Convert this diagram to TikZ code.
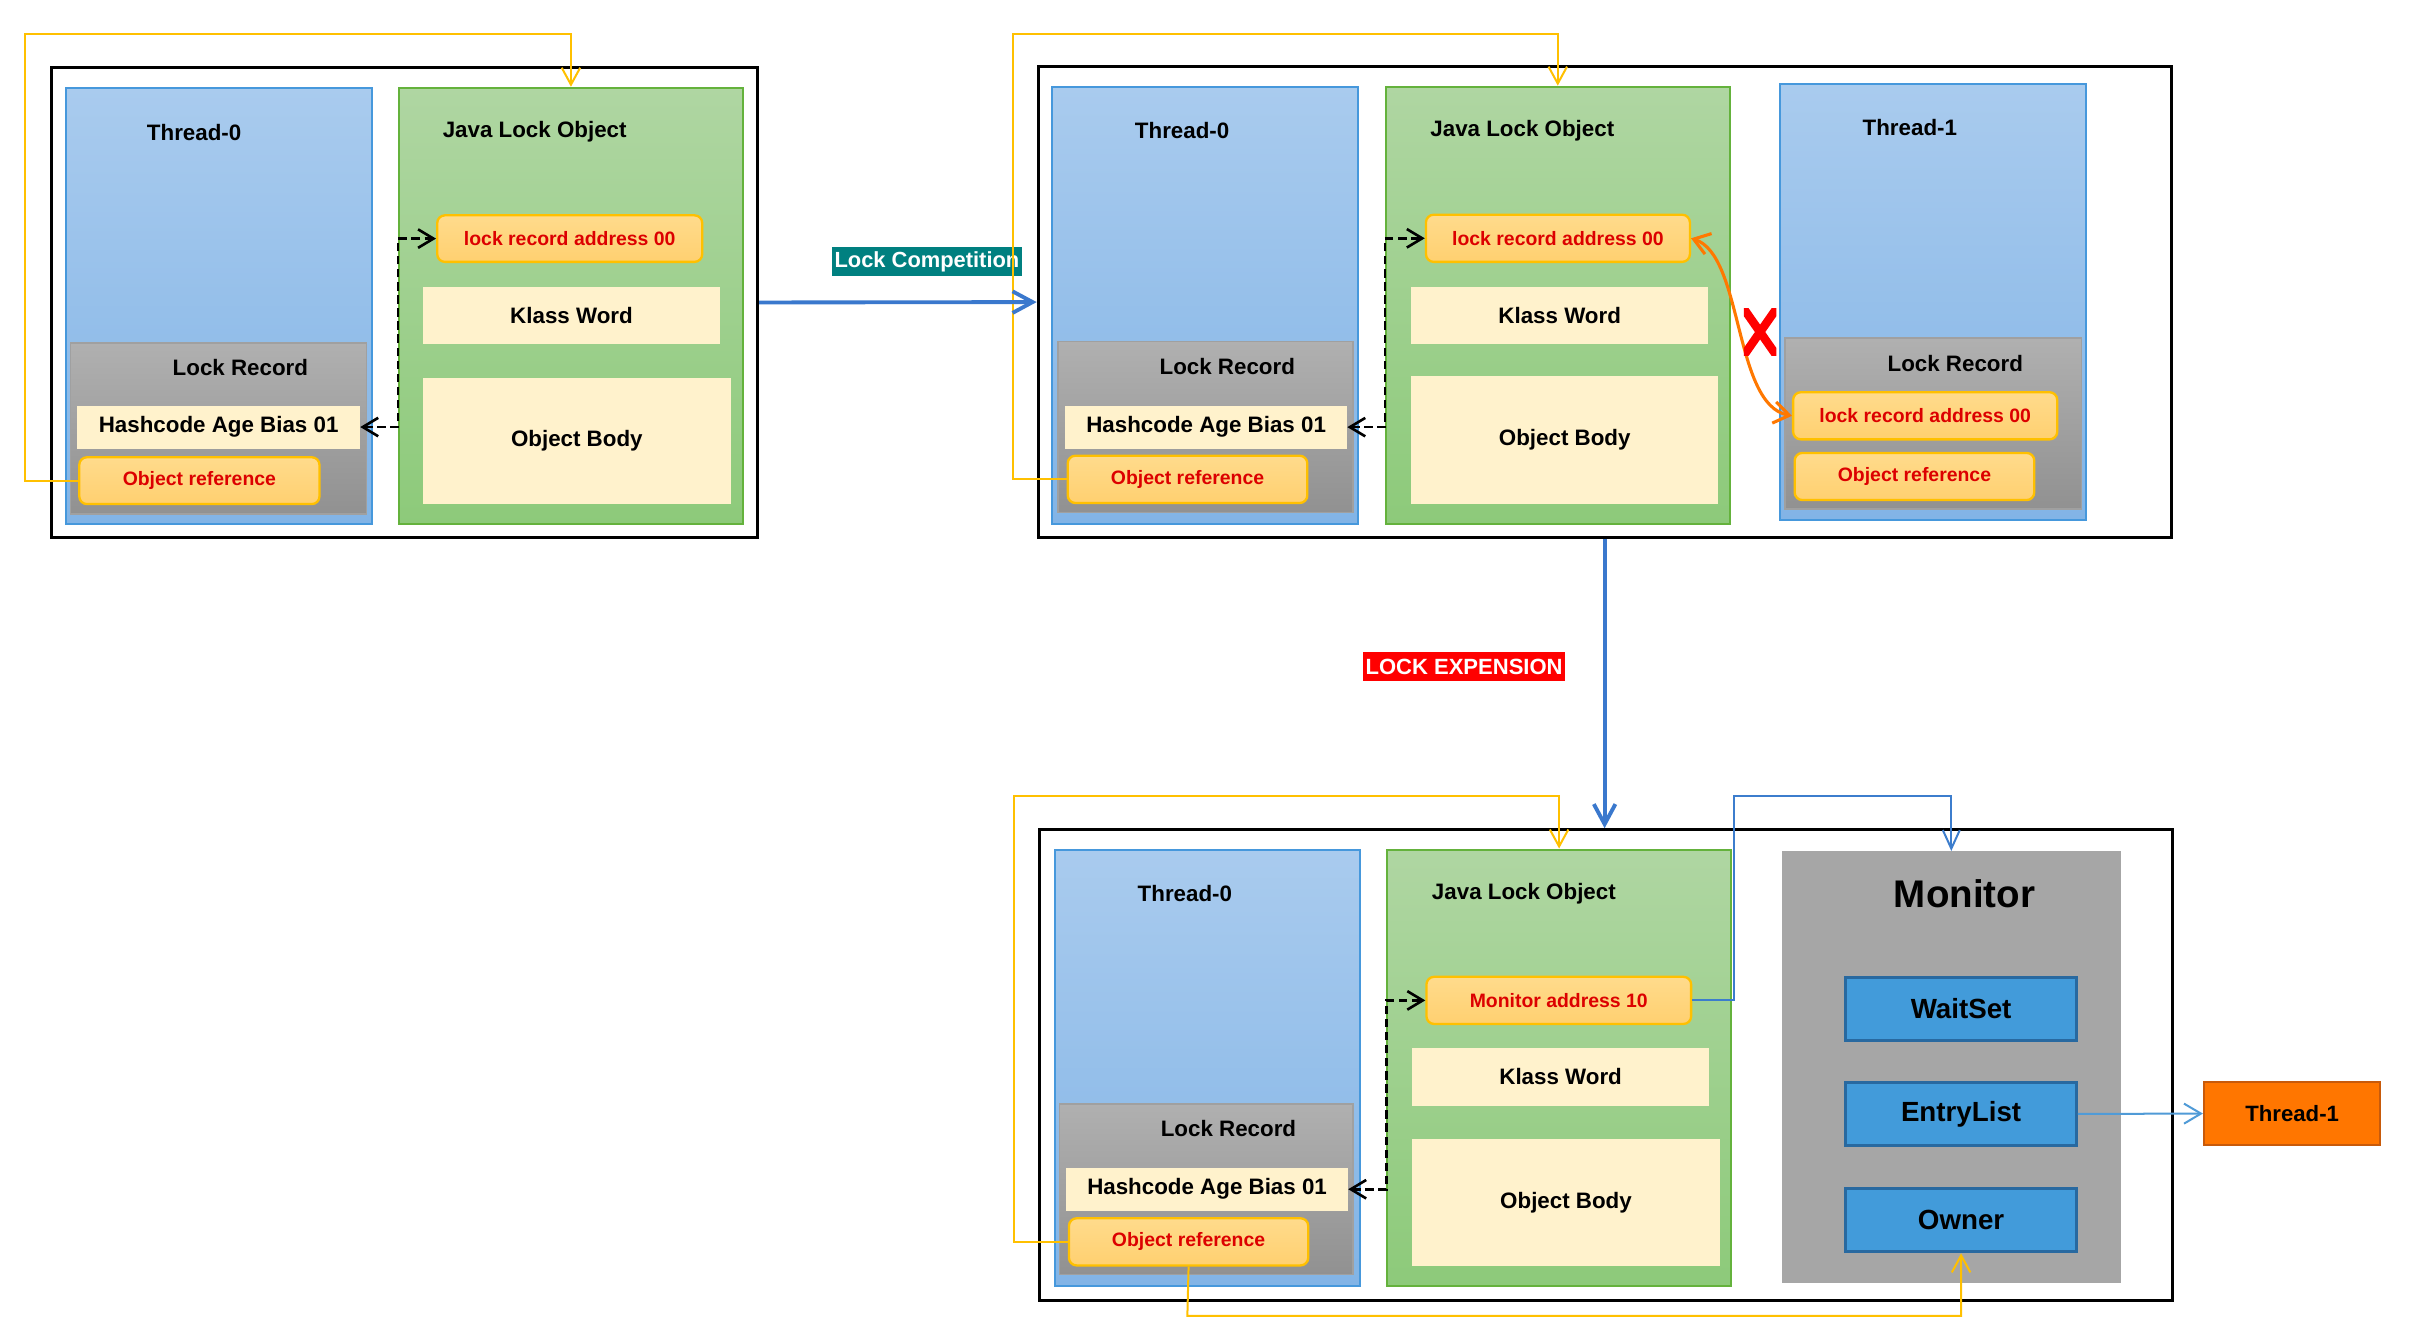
\documentclass[tikz,border=0pt]{standalone}
\usepackage{fontspec}
\setmainfont{Liberation Sans}
\usetikzlibrary{arrows.meta}
\definecolor{thrT}{RGB}{169,203,238}
\definecolor{thrBt}{RGB}{130,180,230}
\definecolor{thrB}{RGB}{70,152,220}
\definecolor{grnT}{RGB}{175,214,162}
\definecolor{grnBt}{RGB}{141,202,122}
\definecolor{grnB}{RGB}{100,178,60}
\definecolor{grayT}{RGB}{176,176,176}
\definecolor{grayBt}{RGB}{145,145,145}
\definecolor{grayB}{RGB}{160,160,160}
\definecolor{creamF}{RGB}{255,242,204}
\definecolor{obT}{RGB}{255,219,140}
\definecolor{obBt}{RGB}{255,208,112}
\definecolor{obB}{RGB}{255,192,0}
\definecolor{txtred}{RGB}{220,0,0}
\definecolor{monG}{RGB}{166,166,166}
\definecolor{blkF}{RGB}{66,155,218}
\definecolor{blkB}{RGB}{40,105,160}
\definecolor{tOneF}{RGB}{255,118,0}
\definecolor{tOneB}{RGB}{200,90,10}
\definecolor{yline}{RGB}{255,192,0}
\definecolor{bblue}{RGB}{58,120,205}
\definecolor{bthinC}{RGB}{60,125,205}
\definecolor{bthinD}{RGB}{80,155,215}
\definecolor{orc}{RGB}{255,120,0}
\definecolor{tealbg}{RGB}{0,128,128}
\definecolor{redbg}{RGB}{255,0,0}
\newcommand\fs[1]{\fontsize{#1}{#1}\selectfont\bfseries}
\newcommand\mybox[7]{\node[#1, anchor=north west, inner sep=0pt, minimum width={(#5)-(#3)}, minimum height={(#6)-(#4)}] (#2) at (#3,#4) {#7};}
\tikzset{
  outerbox/.style={draw=black, line width=2pt},
  thr/.style={draw=thrB, line width=1.3pt, top color=thrT, bottom color=thrBt},
  jlo/.style={draw=grnB, line width=1.3pt, top color=grnT, bottom color=grnBt},
  lrec/.style={draw=grayB, line width=1.2pt, top color=grayT, bottom color=grayBt},
  cream/.style={fill=creamF, font=\fs{14.5}},
  ob/.style={draw=obB, line width=1.5pt, rounded corners=5pt, top color=obT, bottom color=obBt, text=txtred, font=\fs{12.6}},
  monbox/.style={fill=monG},
  blk/.style={draw=blkB, fill=blkF, line width=2pt, font=\fs{18}},
  tone/.style={draw=tOneB, fill=tOneF, line width=1.5pt, font=\fs{14.4}},
  ttl/.style={font=\fs{14.5}, inner sep=0pt},
  yl/.style={draw=yline, line width=1.3pt, -{Straight Barb[length=11pt,width=12pt]}},
  bthick/.style={draw=bblue, line width=2.5pt, -{Straight Barb[length=13pt,width=14pt]}},
  bthin/.style={draw=bthinC, line width=1.3pt, -{Straight Barb[length=12pt,width=11pt]}},
  bthinb/.style={draw=bthinD, line width=1.3pt, -{Straight Barb[length=11pt,width=13pt]}},
  dsh/.style={draw=black, line width=1.7pt, dash pattern=on 5.5pt off 3pt, {Straight Barb[length=10pt,width=12pt]}-{Straight Barb[length=10pt,width=12pt]}},
  orcurve/.style={draw=orc, line width=2pt, {Straight Barb[length=10pt,width=14pt]}-{Straight Barb[length=10pt,width=14pt]}},
}
\begin{document}
\begin{tikzpicture}[x=1pt,y=-1pt]
\useasboundingbox[fill=white] (0,0) rectangle (1568,868);

% ---------- Panel 1 ----------
\mybox{outerbox}{outA}{32.3}{42.9}{490.7}{347.7}{}
\mybox{thr}{thA}{42}{56.3}{240.5}{339.6}{}
\mybox{jlo}{gA}{258.2}{56.3}{481.6}{339.6}{}
\mybox{lrec}{lrA}{45.2}{221.8}{237.3}{333}{}
\mybox{cream}{hcA}{50}{263}{233.4}{290.9}{Hashcode Age Bias 01}
\mybox{ob}{orA}{50.7}{296}{206.6}{326.4}{Object reference}
\mybox{ob}{lraA}{283}{139}{455}{169.2}{lock record address 00}
\mybox{cream}{kwA}{274.4}{186}{467}{223}{Klass Word}
\mybox{cream}{boA}{274.4}{245}{473.9}{326.8}{Object Body}
\node[ttl] (tA) at (126,85.8) {Thread-0};
\node[ttl] (jA) at (347,85.8) {Java Lock Object};
\node[ttl] (lA) at (156,238.8) {Lock Record};

% ---------- Panel 2 ----------
\mybox{outerbox}{outB}{672.8}{42.4}{1408}{347.7}{}
\mybox{thr}{thB}{682.3}{55.6}{880.5}{339.6}{}
\mybox{jlo}{gB}{898.8}{55.6}{1121.9}{339.6}{}
\mybox{thr}{thBb}{1154.6}{53.8}{1353.3}{336.8}{}
\mybox{ob}{lraB}{924.7}{138.6}{1096}{169.2}{lock record address 00}
\mybox{cream}{kwB}{915.7}{186}{1108.4}{223}{Klass Word}
\mybox{cream}{boB}{915.7}{244}{1114.9}{326.8}{Object Body}
\mybox{lrec}{lrB}{686.3}{221}{877.5}{332}{}
\mybox{cream}{hcB}{691.2}{263}{874}{291}{Hashcode Age Bias 01}
\mybox{ob}{orB}{692.2}{295}{847.7}{325.7}{Object reference}
\mybox{lrec}{lrBb}{1158}{219}{1350.3}{329.6}{}
\mybox{ob}{lraBb}{1163}{253.8}{1334.4}{284.4}{lock record address 00}
\mybox{ob}{orBb}{1164}{293.2}{1319.5}{323.8}{Object reference}
\node[ttl] (tB) at (767.2,84.6) {Thread-0};
\node[ttl] (jB) at (988,84.6) {Java Lock Object};
\node[ttl] (tBb) at (1239.5,83) {Thread-1};
\node[ttl] (lB) at (796.5,237.6) {Lock Record};
\node[ttl] (lBb) at (1269,236) {Lock Record};

% ---------- Panel 3 ----------
\mybox{outerbox}{outC}{673.6}{537.5}{1409.2}{843}{}
\mybox{thr}{thC}{684.2}{550.7}{882.3}{834.1}{}
\mybox{jlo}{gC}{899.8}{550.7}{1122.6}{834.1}{}
\mybox{monbox}{mon}{1156}{552.3}{1376.4}{832.4}{}
\mybox{ob}{ma}{925}{633.2}{1096.8}{663.8}{Monitor address 10}
\mybox{cream}{kwC}{916.3}{679.8}{1109}{717.6}{Klass Word}
\mybox{cream}{boC}{916.3}{739}{1116}{821.7}{Object Body}
\mybox{lrec}{lrC}{687}{715.7}{877.6}{826.5}{}
\mybox{cream}{hcC}{691.8}{757.6}{874.6}{785.6}{Hashcode Age Bias 01}
\mybox{ob}{orC}{693}{789.9}{848.3}{820.5}{Object reference}
\mybox{blk}{ws}{1197}{633.2}{1346.5}{674.3}{WaitSet}
\mybox{blk}{el}{1197}{701.4}{1346.5}{742.5}{EntryList}
\mybox{blk}{own}{1197}{770.3}{1346.5}{811.4}{Owner}
\mybox{tone}{tC}{1429.7}{701.4}{1544}{742.5}{Thread-1}
\node[ttl] (tCt) at (769,579.8) {Thread-0};
\node[ttl] (jC) at (989,579.8) {Java Lock Object};
\node[font=\fs{25}, inner sep=0pt] (monT) at (1275,579.8) {Monitor};
\node[ttl] (lC) at (797.3,732.5) {Lock Record};

% ---------- Labels ----------
\node[fill=tealbg, text=white, font=\fs{14.2}, inner sep=0pt, minimum width=123, minimum height=18.5] (lc) at (601.6,169.7) {Lock Competition};
\node[fill=redbg, text=white, font=\fs{14.3}, inner sep=0pt, minimum width=131, minimum height=18.6] (lx) at (950.2,432.7) {LOCK EXPENSION};

% ---------- Connectors ----------
\coordinate (cA) at (16.1,22);
\coordinate (cB) at (657.4,22);
\coordinate (cC) at (657.8,516.5);
\coordinate (cM) at (1125.5,516.5);
\coordinate (cO) at (770.6,854);

\draw[yl] (orA.west) -| (cA) -| (gA.north);
\draw[yl] (orB.west) -| (cB) -| (gB.north);
\draw[yl] (orC.west) -| (cC) -| (gC.north);
\draw[yl] (orC.south) -- (cO) -| (own.south);

\draw[dsh] (hcA.east) -- (hcA.east -| gA.west) |- (lraA.west);
\draw[dsh] (hcB.east) -- (hcB.east -| gB.west) |- (lraB.west);
\draw[dsh] (hcC.east) -- (hcC.east -| gC.west) |- (ma.west);

\draw[bthick] (outA.east) -- (outB.west);
\draw[bthick] (outB.south) -- (outB.south |- outC.north);

\draw[orcurve] (lraB.east) .. controls +(34,11) and +(-38,-7) .. (lraBb.west);
\begin{scope}
  \clip (1131.8,200.5) rectangle (1152.8,230.5);
  \draw[red, line width=5.5pt] (1129.3,196.9) -- (1155.3,234.1) (1155.3,196.9) -- (1129.3,234.1);
\end{scope}

\draw[bthin] (ma.east) -| (cM) -| (mon.north);
\draw[bthinb] (el.east) -- (tC.west);
\end{tikzpicture}
\end{document}
